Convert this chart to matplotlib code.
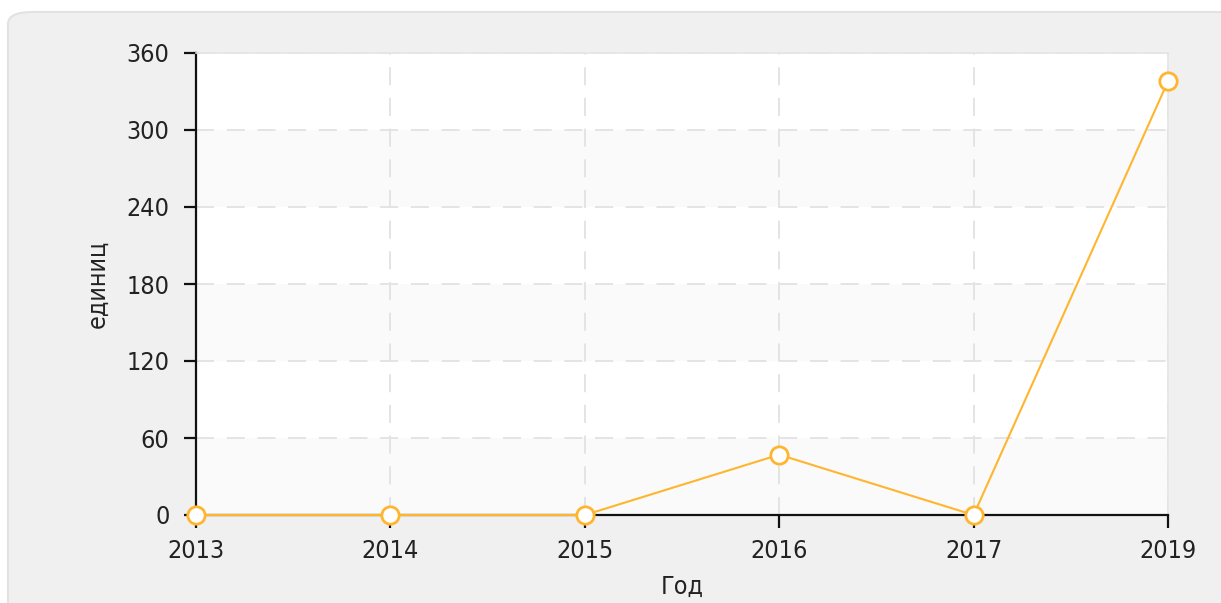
import matplotlib.pyplot as plt
from matplotlib.patches import FancyBboxPatch

years = ["2013", "2014", "2015", "2016", "2017", "2019"]
values = [0, 0, 0, 47, 0, 338]
y_ticks = [0, 60, 120, 180, 240, 300, 360]

line_color = "#ffb52e"
text_color = "#222222"

plt.rcParams["font.family"] = ["DejaVu Sans"]
plt.rcParams["font.stretch"] = "condensed"

fig = plt.figure(figsize=(12.21, 6.03), dpi=100)
fig.patch.set_facecolor("white")

# rounded grey panel behind the chart
panel = FancyBboxPatch((8 / 1221, -0.05), 1.2, 1.0 - 12 / 603 + 0.05,
                       boxstyle="round,pad=0,rounding_size=0.02",
                       transform=fig.transFigure, facecolor="#f0f0f0",
                       edgecolor="#e2e2e2", linewidth=1.5, zorder=-10)
fig.patches.append(panel)

ax = fig.add_axes([196 / 1221, 1 - 515 / 603, (1168 - 196) / 1221, (515 - 53) / 603])
ax.set_facecolor("white")

x = list(range(len(years)))

# alternating horizontal bands
for i in range(len(y_ticks) - 1):
    if i % 2 == 0:
        ax.axhspan(y_ticks[i], y_ticks[i + 1], color="#fafafa", zorder=0, lw=0)

ax.grid(True, color="#e2e2e2", linestyle=(0, (10, 7)), linewidth=1.3, zorder=1)
ax.set_axisbelow(True)

ax.plot(x, values, color=line_color, linewidth=1.5, marker="o", markersize=12.5,
        markerfacecolor="white", markeredgecolor=line_color, markeredgewidth=2,
        zorder=5, clip_on=False)

ax.set_xlim(0, len(years) - 1)
ax.set_ylim(0, 360)
ax.set_xticks(x)
ax.set_xticklabels(years)
ax.set_yticks(y_ticks)

for side in ["top", "right"]:
    ax.spines[side].set_color("#e4e4e4")
    ax.spines[side].set_linewidth(1.2)
for side in ["left", "bottom"]:
    ax.spines[side].set_color("#111111")
    ax.spines[side].set_linewidth(1.6)

ax.tick_params(axis="both", length=9, width=1.6, color="#111111",
               labelsize=18, labelcolor=text_color)
ax.tick_params(axis="y", pad=10)
ax.tick_params(axis="x", pad=8)

ax.set_xlabel("Год", fontsize=18, color=text_color, labelpad=9)
ax.set_ylabel("единиц", fontsize=18, color=text_color, labelpad=12)

fig.savefig("out.png", dpi=100, facecolor=fig.get_facecolor())
